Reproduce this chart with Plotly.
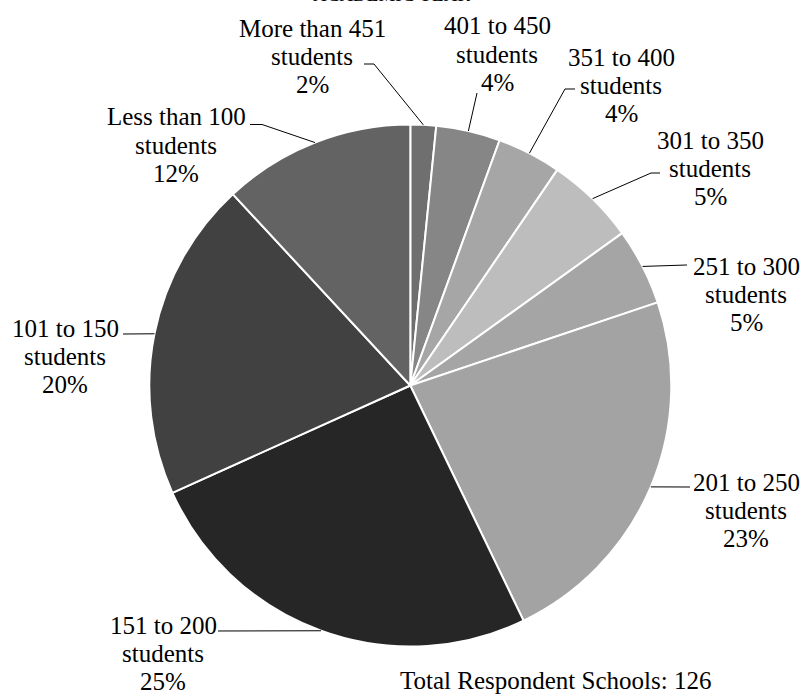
import math
import plotly.graph_objects as go

W, H = 800, 694

# ---- data ----
categories = ["More than 451", "401 to 450", "351 to 400", "301 to 350", "251 to 300",
              "201 to 250", "151 to 200", "101 to 150", "Less than 100"]
schools = [2, 5, 5, 7, 6, 29, 32, 25, 15]
pct_labels = ["2%", "4%", "4%", "5%", "5%", "23%", "25%", "20%", "12%"]
unit_label = "students"
title_text = "ACADEMIC YEAR"
note_text = "Total Respondent Schools: 126"

# ---- styles ----
colors = ["#6f6f6f", "#868686", "#a6a6a6", "#bdbdbd", "#a5a5a5",
          "#a3a3a3", "#262626", "#414141", "#636363"]
FONT = "Liberation Serif"
FS = 25
LINE_H = 28.3

# pie geometry in pixels
CX, CY, R = 410.3, 385.5, 261.0

# label layout: centre x, first-line baseline, leader start, optional elbow
label_pos = [
    (312, 36, (364, 64), (374, 64)),
    (497, 34, (477, 93), None),
    (621, 65, (575, 89), (565, 89)),
    (710, 148, (660, 173), (651, 173)),
    (746, 274, (687, 265), None),
    (746, 490, (690, 487), None),
    (163, 633, (218, 631), None),
    (65, 336, (123, 334), None),
    (176, 125, (250, 124.5), (262, 124.5)),
]


def px(x):
    return x / W


def py(y):
    return 1 - y / H


fig = go.Figure()
fig.add_trace(go.Pie(
    labels=categories,
    values=schools,
    sort=False,
    direction="clockwise",
    rotation=0,
    textinfo="none",
    hoverinfo="label+value+percent",
    marker=dict(colors=colors, line=dict(color="white", width=2)),
    domain=dict(x=[px(CX - R), px(CX + R)], y=[py(CY + R), py(CY - R)]),
    showlegend=False,
))

annotations = []
shapes = []
total = sum(schools)
cum = 0
for cat, val, pct, (lx, b1, start, elbow) in zip(categories, schools, pct_labels, label_pos):
    mid = (cum + val / 2) / total * 2 * math.pi
    cum += val
    ex = CX + R * math.sin(mid)
    ey = CY - R * math.cos(mid)
    for i, line in enumerate([cat, unit_label, pct]):
        yb = b1 + i * LINE_H
        annotations.append(dict(
            x=px(lx), y=py(yb - 0.32 * FS), xref="paper", yref="paper",
            text=line, showarrow=False, xanchor="center", yanchor="middle",
            font=dict(family=FONT, size=FS, color="black"),
        ))
    pts = [start] + ([elbow] if elbow else []) + [(ex, ey)]
    path = "M " + " L ".join(f"{px(x):.5f},{py(y):.5f}" for x, y in pts)
    shapes.append(dict(type="path", xref="paper", yref="paper", path=path,
                       line=dict(color="black", width=1)))

annotations.append(dict(
    x=px(555), y=py(688 - 0.32 * FS), xref="paper", yref="paper",
    text=note_text, showarrow=False, xanchor="center", yanchor="middle",
    font=dict(family=FONT, size=FS, color="black"),
))
annotations.append(dict(
    x=px(391), y=py(1 - 0.32 * 19), xref="paper", yref="paper",
    text=title_text, showarrow=False, xanchor="center", yanchor="middle",
    font=dict(family=FONT, size=19, color="black"),
))

fig.update_layout(
    width=W, height=H,
    margin=dict(l=0, r=0, t=0, b=0),
    paper_bgcolor="white", plot_bgcolor="white",
    annotations=annotations, shapes=shapes,
)

fig.write_html("out.html")
